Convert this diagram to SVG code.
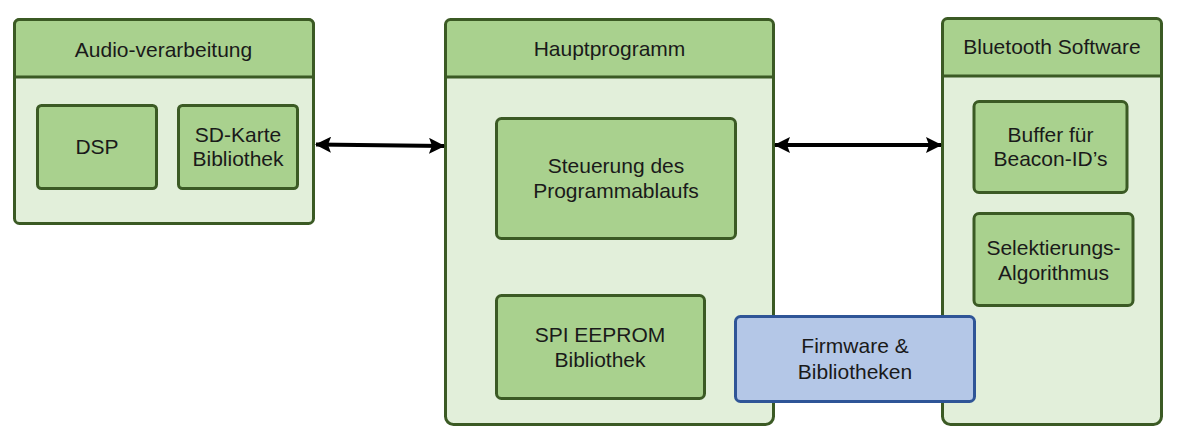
<svg xmlns="http://www.w3.org/2000/svg" width="1183" height="438" viewBox="0 0 1183 438">
<style>
.panel{fill:#e2efda;stroke:#3b5a24;stroke-width:3}
.head{fill:#a9d18e;stroke:#3b5a24;stroke-width:3}
.box{fill:#a9d18e;stroke:#3b5a24;stroke-width:3}
.blue{fill:#b4c7e7;stroke:#2f5597;stroke-width:3}
text{font-family:"Liberation Sans",Arial,sans-serif;font-size:21px;fill:#1a1a1a;text-anchor:middle}
.conn{stroke:#000;stroke-width:4;fill:none}
</style>
<defs>
<marker id="ah" viewBox="0 0 16 16" refX="15" refY="8" markerWidth="16" markerHeight="16" markerUnits="userSpaceOnUse" orient="auto-start-reverse">
<path d="M0,0 L16,8 L0,16 L3,8 Z" fill="#000"/>
</marker>
</defs>
<g id="audio">
<rect class="panel" x="14.5" y="19.5" width="299" height="204" rx="5"/>
<path class="head" d="M14.5,77 V24.5 A5,5 0 0 1 19.5,19.5 H308.5 A5,5 0 0 1 313.5,24.5 V77 Z"/>
<text x="163.5" y="57">Audio-verarbeitung</text>
</g>
<g id="dsp">
<rect class="box" x="37.5" y="105.5" width="119" height="83" rx="4"/>
<text x="97" y="154">DSP</text>
</g>
<g id="sdkarte">
<rect class="box" x="178.5" y="105.5" width="119" height="83" rx="4"/>
<text x="238" y="141.5">SD-Karte</text>
<text x="238" y="166">Bibliothek</text>
</g>
<g id="haupt">
<rect class="panel" x="445.5" y="19.5" width="328" height="405" rx="8"/>
<path class="head" d="M445.5,77 V24.5 A5,5 0 0 1 450.5,19.5 H768.5 A5,5 0 0 1 773.5,24.5 V77 Z"/>
<text x="609.5" y="56">Hauptprogramm</text>
</g>
<g id="steuerung">
<rect class="box" x="496.5" y="118.5" width="239" height="120" rx="5"/>
<text x="616" y="172.5">Steuerung des</text>
<text x="616" y="197.5">Programmablaufs</text>
</g>
<g id="spi">
<rect class="box" x="496.5" y="295.5" width="208" height="103" rx="5"/>
<text x="600" y="341.5">SPI EEPROM</text>
<text x="600" y="366.5">Bibliothek</text>
</g>
<g id="bluetooth">
<rect class="panel" x="942.5" y="18.5" width="219" height="406" rx="8"/>
<path class="head" d="M942.5,76 V23.5 A5,5 0 0 1 947.5,18.5 H1156.5 A5,5 0 0 1 1161.5,23.5 V76 Z"/>
<text x="1052" y="54">Bluetooth Software</text>
</g>
<g id="buffer">
<rect class="box" x="974" y="101.5" width="153" height="91" rx="5"/>
<text x="1050.5" y="141.5">Buffer für</text>
<text x="1050.5" y="166">Beacon-ID’s</text>
</g>
<g id="selekt">
<rect class="box" x="974" y="213.5" width="159" height="92" rx="5"/>
<text x="1053.5" y="255">Selektierungs-</text>
<text x="1053.5" y="279.5">Algorithmus</text>
</g>
<g id="firmware">
<rect class="blue" x="735.5" y="316.5" width="239" height="85" rx="5"/>
<text x="855" y="353">Firmware &amp;</text>
<text x="855" y="378.5">Bibliotheken</text>
</g>
<g id="connectors">
<line class="conn" x1="316" y1="144.5" x2="444" y2="146" marker-start="url(#ah)" marker-end="url(#ah)"/>
<line class="conn" x1="775" y1="145" x2="941" y2="145" marker-start="url(#ah)" marker-end="url(#ah)"/>
</g>
</svg>
